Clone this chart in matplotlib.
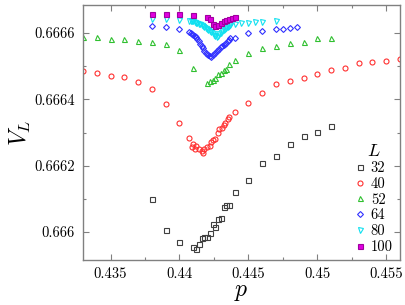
import matplotlib
matplotlib.use("Agg")
import matplotlib.pyplot as plt
from matplotlib.ticker import FixedLocator, MultipleLocator

plt.rcParams['font.family'] = ['cmr10', 'DejaVu Serif']
plt.rcParams['mathtext.fontset'] = 'cm'
plt.rcParams['axes.formatter.use_mathtext'] = True

# ---- data ----
p32 = [0.438, 0.439, 0.440, 0.441, 0.4412, 0.4414, 0.4416, 0.4418, 0.4420, 0.4422, 0.4424,
       0.4426, 0.4428, 0.4430, 0.4432, 0.4434, 0.4436, 0.4440, 0.445, 0.446, 0.447, 0.448,
       0.449, 0.450, 0.451]
v32 = [0.666099, 0.666006, 0.665969, 0.665954, 0.665948, 0.665963, 0.665982, 0.665985,
       0.665985, 0.665997, 0.666024, 0.666015, 0.666039, 0.666042, 0.666075, 0.666081,
       0.666081, 0.666120, 0.666157, 0.666208, 0.666229, 0.666265, 0.666289, 0.666301,
       0.666319]

p40 = [0.433, 0.434, 0.435, 0.436, 0.437, 0.438, 0.439, 0.440, 0.4407, 0.4409, 0.4410,
       0.4411, 0.4412, 0.4414, 0.4416, 0.4417, 0.4418, 0.4420, 0.4422, 0.4423, 0.4424,
       0.4426, 0.4428, 0.4429, 0.4431, 0.4432, 0.4433, 0.4435, 0.4436, 0.444, 0.445,
       0.446, 0.447, 0.448, 0.449, 0.450, 0.451, 0.452, 0.453, 0.454, 0.455, 0.456]
v40 = [0.666485, 0.666478, 0.666470, 0.666467, 0.666452, 0.666431, 0.666386, 0.666329,
       0.666285, 0.666255, 0.666265, 0.666251, 0.666259, 0.666249, 0.666245, 0.666239,
       0.666251, 0.666257, 0.666261, 0.666273, 0.666277, 0.666281, 0.666298, 0.666311,
       0.666314, 0.666322, 0.666328, 0.666340, 0.666348, 0.666362, 0.666390, 0.666419,
       0.666446, 0.666455, 0.666464, 0.666476, 0.666488, 0.666494, 0.666510, 0.666513,
       0.666516, 0.666523]

p52 = [0.433, 0.434, 0.435, 0.436, 0.437, 0.438, 0.439, 0.440, 0.441, 0.4420, 0.4422,
       0.4424, 0.4426, 0.4428, 0.4430, 0.4432, 0.4434, 0.4436, 0.444, 0.445, 0.446,
       0.447, 0.448, 0.449, 0.450, 0.451]
v52 = [0.666588, 0.666588, 0.666582, 0.666583, 0.666577, 0.666573, 0.666567, 0.666549,
       0.666494, 0.666449, 0.666454, 0.666458, 0.666464, 0.666476, 0.666480, 0.666488,
       0.666491, 0.666508, 0.666519, 0.666540, 0.666555, 0.666561, 0.666570, 0.666573,
       0.666585, 0.666586]

p64 = [0.438, 0.439, 0.440, 0.4407, 0.4408, 0.4409, 0.4410, 0.4411, 0.4412, 0.4413,
       0.4414, 0.4415, 0.4416, 0.4417, 0.4418, 0.4419, 0.4420, 0.4421, 0.4422, 0.4423,
       0.4424, 0.4425, 0.4426, 0.4427, 0.4428, 0.4429, 0.4430, 0.4431, 0.4432, 0.4433,
       0.4434, 0.4435, 0.4436, 0.4437, 0.444, 0.445, 0.446, 0.447, 0.4475, 0.448, 0.4485]
v64 = [0.666621, 0.666617, 0.666612, 0.666603, 0.666601, 0.666597, 0.666594, 0.666592,
       0.666588, 0.666583, 0.666577, 0.666568, 0.666562, 0.666554, 0.666547, 0.666541,
       0.666537, 0.666533, 0.666530, 0.666528, 0.666534, 0.666537, 0.666541, 0.666545,
       0.666548, 0.666553, 0.666557, 0.666560, 0.666564, 0.666567, 0.666571, 0.666576,
       0.666580, 0.666585, 0.666585, 0.666600, 0.666605, 0.666612, 0.666612, 0.666614,
       0.666618]

p80 = [0.438, 0.439, 0.440, 0.4407, 0.4408, 0.4409, 0.4410, 0.4411, 0.4412, 0.4413,
       0.4414, 0.4415, 0.4416, 0.4417, 0.4418, 0.4419, 0.4420, 0.4421, 0.4422, 0.4423,
       0.4424, 0.4425, 0.4426, 0.4427, 0.4428, 0.4429, 0.4430, 0.4431, 0.4432, 0.4433,
       0.4434, 0.4435, 0.4436, 0.4437, 0.444, 0.4445, 0.445, 0.4455, 0.446, 0.447]
v80 = [0.666642, 0.666642, 0.666639, 0.666637, 0.666636, 0.666636, 0.666635, 0.666633,
       0.666631, 0.666630, 0.666628, 0.666626, 0.666624, 0.666621, 0.666618, 0.666615,
       0.666613, 0.666610, 0.666606, 0.666603, 0.666599, 0.666595, 0.666591, 0.666587,
       0.666592, 0.666596, 0.666601, 0.666605, 0.666609, 0.666612, 0.666615, 0.666618,
       0.666622, 0.666625, 0.666627, 0.666629, 0.666630, 0.666633, 0.666634, 0.666636]

p100 = [0.438, 0.439, 0.440, 0.441, 0.4420, 0.4422, 0.4424, 0.4426, 0.4428, 0.4430,
        0.4432, 0.4434, 0.4436, 0.4438, 0.4440]
v100 = [0.666657, 0.666657, 0.666656, 0.666654, 0.666648, 0.666641, 0.666627, 0.666621,
        0.666623, 0.666630, 0.666635, 0.666639, 0.666643, 0.666645, 0.666648]

labels = ['32', '40', '52', '64', '80', '100']
xticks = [0.435, 0.44, 0.445, 0.45, 0.455]
xticklabels = ['0.435', '0.44', '0.445', '0.45', '0.455']
yticks = [0.666, 0.6662, 0.6664, 0.6666]
yticklabels = ['0.666', '0.6662', '0.6664', '0.6666']

# ---- figure ----
fig = plt.figure(figsize=(4.06, 3.05), dpi=100)
ax = fig.add_axes([83/406, 1-260/305, 317/406, 255/305])

ms = 3.6
mew = 0.8
series = [
    (p32, v32, 's', '#404040', 'none'),
    (p40, v40, 'o', '#ff3030', 'none'),
    (p52, v52, '^', '#30c030', 'none'),
    (p64, v64, 'D', '#3030ff', 'none'),
    (p80, v80, 'v', '#10e0f0', 'none'),
    (p100, v100, 's', '#a000a0', '#e000e0'),
]
for (px, pv, mk, ec, fc), lab in zip(series, labels):
    size = ms - 0.6 if mk == 'D' else ms
    ax.plot(px, pv, linestyle='none', marker=mk, markersize=size,
            markeredgecolor=ec, markerfacecolor=fc, markeredgewidth=mew, label=lab)

ax.set_xlim(0.433, 0.456)
ax.set_ylim(0.665916, 0.6666844)

ax.xaxis.set_major_locator(FixedLocator(xticks))
ax.set_xticklabels(xticklabels)
ax.xaxis.set_minor_locator(MultipleLocator(0.0025))
ax.yaxis.set_major_locator(FixedLocator(yticks))
ax.set_yticklabels(yticklabels)
ax.yaxis.set_minor_locator(MultipleLocator(0.0001))

ax.tick_params(which='both', direction='in', top=True, right=True, color='#808080',
               labelsize=10.5)
ax.tick_params(which='major', length=4, width=0.8)
ax.tick_params(which='minor', length=2.2, width=0.8)
ax.tick_params(axis='y', pad=6)
ax.tick_params(axis='x', pad=5)
for s in ax.spines.values():
    s.set_color('#808080')
    s.set_linewidth(1.0)

ax.set_xlabel('$p$', fontsize=17, labelpad=0)
ax.set_ylabel('$V_L$', fontsize=17, labelpad=1)

leg = ax.legend(title='$L$', loc='lower right', bbox_to_anchor=(1.005, -0.01),
                frameon=False, fontsize=10.5, title_fontsize=13,
                handlelength=0.8, handletextpad=0.35, labelspacing=0.14,
                borderaxespad=0.2, numpoints=1)

fig.savefig('out.png', dpi=100)
